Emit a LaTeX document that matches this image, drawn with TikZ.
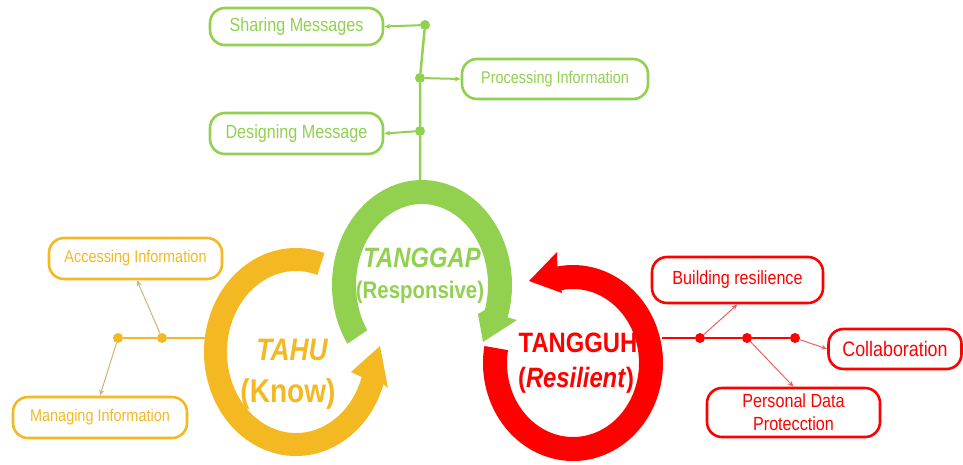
\documentclass[tikz,border=0pt]{standalone}
\usepackage{fontspec}
\setmainfont{Liberation Sans}[FakeStretch=0.85]
\usetikzlibrary{arrows.meta}
\definecolor{cgreen}{HTML}{92D050}
\definecolor{cyellow}{HTML}{F4B822}
\definecolor{cred}{HTML}{FF0000}
\definecolor{ctan}{HTML}{D4B072}
\definecolor{cpink}{HTML}{F06060}
\newcommand{\fs}[1]{\fontsize{#1}{#1}\selectfont}
\begin{document}
\begin{tikzpicture}[x=1pt,y=-1pt,
  pill/.style={draw=#1, text=#1, line width=2.6pt, rounded corners=15pt, fill=white, inner sep=0pt, align=center},
  dot/.style={circle, fill, inner sep=0pt, minimum size=10pt},
  thickline/.style={line width=2.5pt},
  garrow/.style={line width=2pt, cgreen, -{Stealth[length=6pt,width=5pt]}},
  yarrow/.style={line width=1pt, ctan, -{Stealth[length=6pt,width=5pt]}},
  rarrow/.style={line width=1pt, cpink, -{Stealth[length=6pt,width=5pt]}},
  biglabel/.style={anchor=base, inner sep=0pt}
]
\useasboundingbox (0,0) rectangle (963,464);

% ---------- circular arrows ----------
% green (TANGGAP)
\fill[cgreen] ([shift={(422,285)}]146:90 and 105)
  arc[start angle=146, end angle=378, x radius=90, y radius=105]
  -- (517,320) -- (483,342) -- (478,314)
  -- ([shift={(422,285)}]18:66 and 81)
  arc[start angle=378, end angle=146, x radius=66, y radius=81] -- cycle;
% yellow (TAHU)
\fill[cyellow] ([shift={(296,352)}]288:92 and 104)
  arc[start angle=288, end angle=18, x radius=92, y radius=104]
  -- (388,388) -- (380,346) -- (351,372)
  -- ([shift={(296,352)}]18:69 and 81)
  arc[start angle=18, end angle=288, x radius=69, y radius=81] -- cycle;
% red (TANGGUH)
\fill[cred] ([shift={(573,363)}]190:90 and 98)
  arc[start angle=190, end angle=-100, x radius=90, y radius=98]
  -- (557,252) -- (529,281) -- (562,293)
  -- ([shift={(573,363)}]-100:66 and 74)
  arc[start angle=-100, end angle=190, x radius=66, y radius=74] -- cycle;

% ---------- circle labels ----------
\node[biglabel, cgreen] (tgp) at (422,267) {\fs{28}\bfseries\itshape TANGGAP};
\node[biglabel, cgreen] (tgpr) at (420,298) {\fs{24}\bfseries (Responsive)};
\node[biglabel, cyellow] (tahu) at (292,360) {\fs{31}\bfseries\itshape TAHU};
\node[biglabel, cyellow] (tahuk) at (288,402) {\fs{33}\bfseries (Know)};
\node[biglabel, cred] (tgh) at (578,352) {\fs{28}\bfseries TANGGUH};
\node[biglabel, cred] (tghr) at (576,387) {\fs{28}\bfseries (\textit{Resilient})};

% ---------- green branch ----------
\coordinate (gtop) at (420,181);
\node[dot, cgreen] (g1) at (425,25) {};
\node[dot, cgreen] (g2) at (420,78) {};
\node[dot, cgreen] (g3) at (420,131) {};
\draw[thickline, cgreen] (g1) -- (g2) -- (g3) -- (gtop);
\node[pill=cgreen, minimum width=173pt, minimum height=37pt, font=\fs{19}] (share) at (296.5,26.5) {Sharing Messages};
\node[pill=cgreen, minimum width=186pt, minimum height=40pt, font=\fs{17}] (proc) at (555,79) {Processing Information};
\node[pill=cgreen, minimum width=173pt, minimum height=41pt, font=\fs{19}] (design) at (296.5,133.5) {Designing Message};
\draw[garrow] (g1) -- (share.east);
\draw[garrow] (g2) -- (proc.west);
\draw[garrow] (g3) -- (design.east);

% ---------- yellow branch ----------
\coordinate (ytie) at (205,338);
\node[dot, cyellow] (y1) at (118,338) {};
\node[dot, cyellow] (y2) at (162,338) {};
\draw[thickline, cyellow] (ytie) -- (y2) -- (y1);
\node[pill=cyellow, minimum width=173pt, minimum height=41pt, font=\fs{17}] (access) at (135.5,258.5) {Accessing Information};
\node[pill=cyellow, minimum width=174pt, minimum height=41pt, font=\fs{17}] (manage) at (100,417.5) {Managing Information};
\draw[yarrow] (y2) -- ([xshift=1.5pt]access.south);
\draw[yarrow] (y1) -- (manage.north);

% ---------- red branch ----------
\coordinate (rtie) at (662,338);
\node[dot, cred] (r1) at (700,338) {};
\node[dot, cred] (r2) at (747,338) {};
\node[dot, cred] (r3) at (795,338) {};
\draw[thickline, cred] (rtie) -- (r1) -- (r2) -- (r3);
\node[pill=cred, minimum width=171pt, minimum height=46pt, font=\fs{19}] (build) at (737.5,280) {Building resilience};
\node[pill=cred, minimum width=133pt, minimum height=40pt, font=\fs{21}] (collab) at (895,349) {Collaboration};
\node[pill=cred, minimum width=173pt, minimum height=49pt, font={\fontsize{19}{23}\selectfont}] (pdp) at (793.5,412.5) {Personal Data\\Protecction};
\draw[rarrow] (r1) -- (build.south);
\draw[rarrow] (r2) -- (pdp.north);
\draw[rarrow] (r3) -- (collab.west);
\end{tikzpicture}
\end{document}
